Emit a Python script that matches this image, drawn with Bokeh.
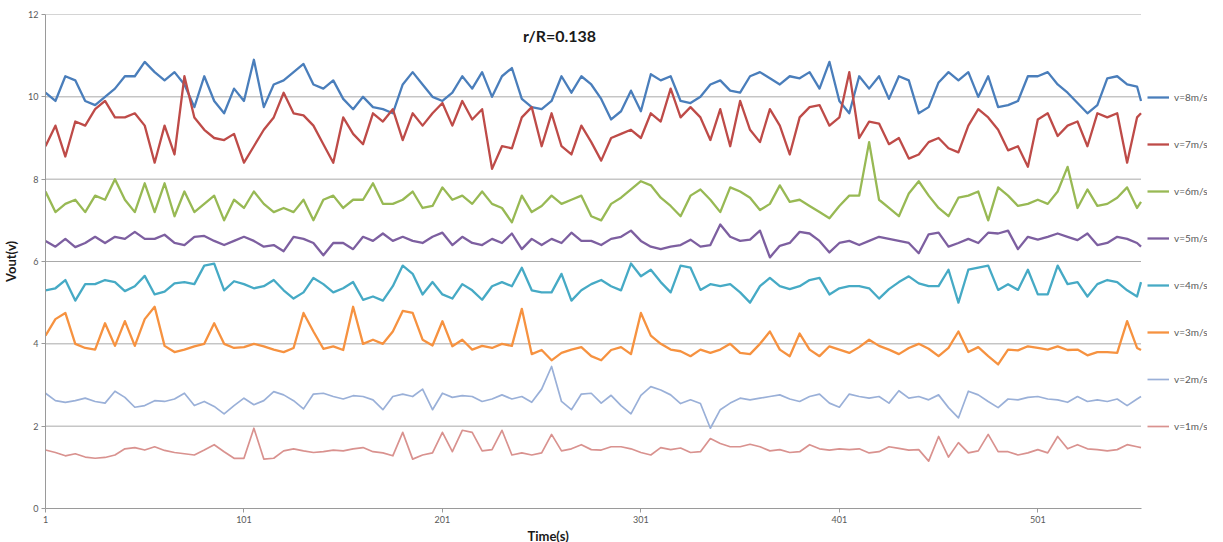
from bokeh.plotting import figure
from bokeh.models import Range1d, FixedTicker, Legend, LegendItem, Label, Title
from bokeh.embed import file_html
from bokeh.resources import INLINE

# time index (s), one reading every 5 s
time_s = list(range(1, 552, 5)) + [553]
t_start, t_end = 1, 553

v8 = [10.1, 9.9, 10.5, 10.4, 9.9, 9.8, 10.0, 10.2, 10.5, 10.5, 10.85, 10.6, 10.4, 10.6, 10.3, 9.75, 10.5, 9.9, 9.6, 10.2, 9.9, 10.9, 9.75, 10.3, 10.4, 10.6, 10.8, 10.3,
      10.2, 10.4, 9.95, 9.7, 10.0, 9.75, 9.7, 9.6, 10.3, 10.6, 10.3, 10.0, 9.9, 10.1, 10.5, 10.2, 10.6, 10.0, 10.5, 10.7, 9.95, 9.75, 9.7, 9.9, 10.5, 10.1, 10.5,
      10.3, 9.95, 9.45, 9.65, 10.15, 9.65, 10.55, 10.4, 10.5, 9.9, 9.85, 10.0, 10.3, 10.4, 10.15, 10.1, 10.5, 10.6, 10.45, 10.3, 10.5, 10.45, 10.6, 10.2, 10.85, 9.9, 9.6,
      10.5, 10.2, 10.5, 9.95, 10.5, 10.4, 9.6, 9.75, 10.35, 10.6, 10.4, 10.6, 10.0, 10.5, 9.75, 9.8, 9.9, 10.5, 10.5, 10.6, 10.3, 10.1, 9.85, 9.6, 9.8, 10.45, 10.5, 10.3, 10.25, 9.9]

v7 = [8.8, 9.3, 8.55, 9.4, 9.3, 9.7, 9.9, 9.5, 9.5, 9.6, 9.3, 8.4, 9.3, 8.6, 10.5, 9.5, 9.2, 9.0, 8.95, 9.1, 8.4, 8.8, 9.2, 9.5, 10.1, 9.6, 9.55, 9.3,
      8.85, 8.4, 9.5, 9.1, 8.85, 9.6, 9.4, 9.7, 8.95, 9.6, 9.3, 9.6, 9.85, 9.3, 9.9, 9.45, 9.7, 8.25, 8.8, 8.75, 9.5, 9.75, 8.8, 9.6, 8.8, 8.6, 9.3,
      8.9, 8.45, 9.0, 9.1, 9.2, 9.0, 9.6, 9.4, 10.2, 9.5, 9.75, 9.5, 8.95, 9.7, 8.8, 9.9, 9.2, 8.9, 9.7, 9.3, 8.6, 9.5, 9.75, 9.8, 9.3, 9.5, 10.6,
      9.0, 9.4, 9.35, 8.85, 9.0, 8.5, 8.6, 8.9, 9.0, 8.75, 8.65, 9.3, 9.7, 9.5, 9.2, 8.7, 8.8, 8.3, 9.45, 9.6, 9.05, 9.3, 9.4, 8.8, 9.6, 9.5, 9.6, 8.4, 9.5, 9.6]

v6 = [7.7, 7.2, 7.4, 7.5, 7.2, 7.6, 7.5, 8.0, 7.5, 7.2, 7.9, 7.2, 7.9, 7.1, 7.7, 7.2, 7.4, 7.6, 7.0, 7.5, 7.3, 7.7, 7.4, 7.2, 7.3, 7.2, 7.5, 7.0,
      7.5, 7.6, 7.3, 7.5, 7.5, 7.9, 7.4, 7.4, 7.5, 7.7, 7.3, 7.35, 7.8, 7.5, 7.6, 7.4, 7.7, 7.4, 7.3, 6.95, 7.6, 7.2, 7.35, 7.6, 7.4, 7.5, 7.6,
      7.1, 7.0, 7.4, 7.55, 7.75, 7.95, 7.85, 7.55, 7.35, 7.1, 7.6, 7.75, 7.5, 7.2, 7.8, 7.7, 7.55, 7.25, 7.4, 7.85, 7.45, 7.5, 7.35, 7.2, 7.05, 7.35, 7.6,
      7.6, 8.9, 7.5, 7.3, 7.1, 7.65, 7.95, 7.6, 7.3, 7.1, 7.55, 7.6, 7.7, 7.0, 7.8, 7.6, 7.35, 7.4, 7.5, 7.4, 7.7, 8.3, 7.3, 7.75, 7.35, 7.4, 7.55, 7.8, 7.3, 7.45]

v5 = [6.5, 6.36, 6.55, 6.35, 6.45, 6.6, 6.45, 6.6, 6.55, 6.72, 6.55, 6.55, 6.65, 6.45, 6.4, 6.6, 6.62, 6.5, 6.4, 6.5, 6.6, 6.5, 6.36, 6.4, 6.25, 6.6, 6.55, 6.45,
      6.15, 6.45, 6.45, 6.3, 6.6, 6.5, 6.68, 6.5, 6.6, 6.5, 6.45, 6.6, 6.7, 6.4, 6.6, 6.45, 6.4, 6.55, 6.45, 6.68, 6.3, 6.55, 6.4, 6.55, 6.45, 6.7, 6.5,
      6.5, 6.4, 6.55, 6.6, 6.75, 6.5, 6.36, 6.3, 6.36, 6.4, 6.53, 6.36, 6.4, 6.9, 6.6, 6.5, 6.53, 6.75, 6.1, 6.38, 6.45, 6.72, 6.68, 6.5, 6.22, 6.45, 6.5,
      6.4, 6.5, 6.6, 6.55, 6.5, 6.45, 6.2, 6.66, 6.7, 6.36, 6.45, 6.55, 6.45, 6.7, 6.68, 6.75, 6.3, 6.6, 6.53, 6.6, 6.68, 6.6, 6.52, 6.68, 6.4, 6.45, 6.6, 6.55, 6.45, 6.36]

v4 = [5.3, 5.35, 5.55, 5.05, 5.45, 5.45, 5.55, 5.5, 5.28, 5.4, 5.65, 5.2, 5.27, 5.47, 5.5, 5.45, 5.9, 5.95, 5.3, 5.52, 5.45, 5.35, 5.4, 5.55, 5.3, 5.1, 5.25, 5.6,
      5.45, 5.25, 5.35, 5.5, 5.07, 5.15, 5.05, 5.4, 5.9, 5.7, 5.2, 5.5, 5.2, 5.1, 5.45, 5.3, 5.07, 5.4, 5.5, 5.4, 5.85, 5.3, 5.25, 5.25, 5.7, 5.05, 5.3,
      5.45, 5.55, 5.4, 5.3, 5.95, 5.64, 5.8, 5.5, 5.25, 5.9, 5.85, 5.31, 5.45, 5.4, 5.45, 5.25, 5.0, 5.4, 5.6, 5.4, 5.33, 5.4, 5.55, 5.6, 5.2, 5.35, 5.4,
      5.4, 5.35, 5.1, 5.33, 5.5, 5.64, 5.47, 5.4, 5.4, 5.8, 5.0, 5.8, 5.85, 5.9, 5.31, 5.45, 5.31, 5.8, 5.2, 5.2, 5.9, 5.45, 5.5, 5.15, 5.45, 5.55, 5.5, 5.3, 5.15, 5.5]

v3 = [4.2, 4.6, 4.75, 4.0, 3.9, 3.86, 4.5, 3.95, 4.55, 3.95, 4.6, 4.9, 3.95, 3.8, 3.86, 3.94, 4.0, 4.5, 4.0, 3.9, 3.92, 4.0, 3.94, 3.86, 3.8, 3.9, 4.75, 4.3,
      3.88, 3.94, 3.85, 4.9, 4.0, 4.1, 4.0, 4.3, 4.8, 4.75, 4.1, 3.96, 4.55, 3.94, 4.1, 3.86, 3.95, 3.9, 4.0, 3.95, 4.85, 3.75, 3.85, 3.6, 3.78, 3.86, 3.92,
      3.7, 3.6, 3.85, 3.92, 3.75, 4.75, 4.2, 4.0, 3.86, 3.82, 3.7, 3.86, 3.78, 3.86, 4.0, 3.78, 3.75, 4.0, 4.3, 3.86, 3.7, 4.25, 3.86, 3.7, 3.94, 3.86, 3.78,
      3.92, 4.1, 3.95, 3.86, 3.75, 3.9, 4.0, 3.88, 3.7, 3.9, 4.3, 3.8, 3.92, 3.7, 3.5, 3.86, 3.84, 3.94, 3.9, 3.86, 3.94, 3.85, 3.86, 3.72, 3.8, 3.8, 3.78, 4.55, 3.9, 3.85]

v2 = [2.8, 2.62, 2.58, 2.62, 2.68, 2.6, 2.56, 2.85, 2.7, 2.46, 2.5, 2.62, 2.6, 2.66, 2.8, 2.5, 2.6, 2.48, 2.3, 2.5, 2.68, 2.52, 2.62, 2.84, 2.76, 2.62, 2.42, 2.78,
      2.8, 2.72, 2.66, 2.74, 2.72, 2.64, 2.4, 2.72, 2.78, 2.72, 2.9, 2.4, 2.8, 2.7, 2.74, 2.72, 2.6, 2.66, 2.76, 2.66, 2.72, 2.58, 2.9, 3.45, 2.6, 2.4, 2.78,
      2.8, 2.56, 2.75, 2.5, 2.3, 2.75, 2.96, 2.88, 2.76, 2.55, 2.64, 2.55, 1.95, 2.4, 2.56, 2.68, 2.64, 2.68, 2.72, 2.76, 2.66, 2.6, 2.72, 2.78, 2.56, 2.46, 2.78,
      2.72, 2.68, 2.72, 2.56, 2.86, 2.68, 2.72, 2.64, 2.76, 2.45, 2.2, 2.85, 2.76, 2.6, 2.45, 2.66, 2.64, 2.7, 2.72, 2.66, 2.64, 2.58, 2.72, 2.6, 2.64, 2.6, 2.66, 2.5, 2.66, 2.72]

v1 = [1.42, 1.36, 1.28, 1.33, 1.25, 1.22, 1.24, 1.3, 1.45, 1.48, 1.42, 1.5, 1.41, 1.36, 1.33, 1.3, 1.42, 1.55, 1.38, 1.22, 1.22, 1.95, 1.2, 1.22, 1.4, 1.45, 1.4, 1.36,
      1.38, 1.42, 1.4, 1.45, 1.48, 1.38, 1.35, 1.28, 1.85, 1.2, 1.3, 1.35, 1.85, 1.38, 1.9, 1.85, 1.4, 1.43, 1.9, 1.3, 1.35, 1.3, 1.35, 1.8, 1.4, 1.45, 1.55,
      1.43, 1.42, 1.5, 1.5, 1.45, 1.36, 1.3, 1.48, 1.43, 1.47, 1.36, 1.38, 1.7, 1.58, 1.5, 1.5, 1.56, 1.5, 1.4, 1.43, 1.36, 1.38, 1.55, 1.45, 1.42, 1.45, 1.43,
      1.45, 1.35, 1.38, 1.5, 1.46, 1.42, 1.43, 1.15, 1.75, 1.25, 1.6, 1.35, 1.4, 1.8, 1.38, 1.38, 1.3, 1.35, 1.43, 1.35, 1.75, 1.45, 1.55, 1.45, 1.43, 1.4, 1.43, 1.55, 1.5, 1.48]

labels = ["v=8m/s", "v=7m/s", "v=6m/s", "v=5m/s", "v=4m/s", "v=3m/s", "v=2m/s", "v=1m/s"]
values = [v8, v7, v6, v5, v4, v3, v2, v1]
colors = ["#4A7EBB", "#BE4B48", "#98B954", "#7D5FA0", "#46AAC5", "#F69240", "#9AB0D8", "#D9928F"]
widths = [2.3, 2.3, 2.3, 2.3, 2.3, 2.3, 1.7, 1.7]
x_ticks = [1, 101, 201, 301, 401, 501]
y_ticks = [0, 2, 4, 6, 8, 10, 12]

FONT = "Lato"

# the frame also holds the legend area to the right of the data
p = figure(frame_width=1162, frame_height=494, x_range=Range1d(1, 586.5), y_range=Range1d(0, 12),
           output_backend="svg", toolbar_location=None,
           min_border_top=14, min_border_right=0, min_border_left=5, min_border_bottom=0)
p.outline_line_color = None
p.background_fill_color = "white"
p.border_fill_color = "white"

p.xgrid.visible = False
p.ygrid.visible = False
# horizontal grid lines only across the data span
p.segment(x0=[t_start] * len(y_ticks), y0=y_ticks, x1=[t_end] * len(y_ticks), y1=y_ticks,
          line_color="#a9a9a9", line_width=1, level="underlay")

p.xaxis.ticker = FixedTicker(ticks=x_ticks)
p.yaxis.ticker = FixedTicker(ticks=y_ticks)
p.xaxis.bounds = (t_start, t_end)
for ax in (p.xaxis, p.yaxis):
    ax.axis_line_color = "#9a9a9a"
    ax.major_tick_line_color = "#9a9a9a"
    ax.minor_tick_line_color = None
    ax.major_tick_in = 0
    ax.major_tick_out = 4
    ax.major_label_text_font = FONT
    ax.major_label_text_font_size = "9px"
    ax.major_label_text_color = "#595959"
    ax.axis_label_text_font = FONT
    ax.axis_label_text_font_style = "bold"
    ax.axis_label_text_font_size = "13px"
    ax.axis_label_text_color = "#1a1a1a"

p.xaxis.major_label_standoff = 3
p.yaxis.axis_label = "Vout(v)"
p.yaxis.major_label_standoff = 3
p.yaxis.axis_label_standoff = 6

# x-axis caption, set slightly left of centre as in the original
xcap = Title(text="Time(s)", align="left", offset=482, standoff=0,
             text_font=FONT, text_font_style="bold", text_font_size="13px", text_color="#1a1a1a")
p.add_layout(xcap, "below")

items = []
for lab, vals, col, w in zip(labels, values, colors, widths):
    r = p.line(time_s, vals, line_color=col, line_width=w, line_join="round")
    items.append(LegendItem(label=lab, renderers=[r]))

legend = Legend(items=items, location=(1102, 72), orientation="vertical",
                border_line_color=None, background_fill_alpha=0,
                label_text_font=FONT, label_text_font_size="10px", label_text_color="#595959",
                glyph_width=22, glyph_height=20, label_height=20, spacing=27,
                label_standoff=5, padding=6, margin=0)
p.add_layout(legend)

title = Label(x=260, y=11.48, text="r/R=0.138", text_font=FONT, text_font_style="bold",
              text_font_size="16px", text_color="#1a1a1a", text_align="center", text_baseline="middle")
p.add_layout(title)

open("out.html", "w").write(file_html(p, INLINE))
